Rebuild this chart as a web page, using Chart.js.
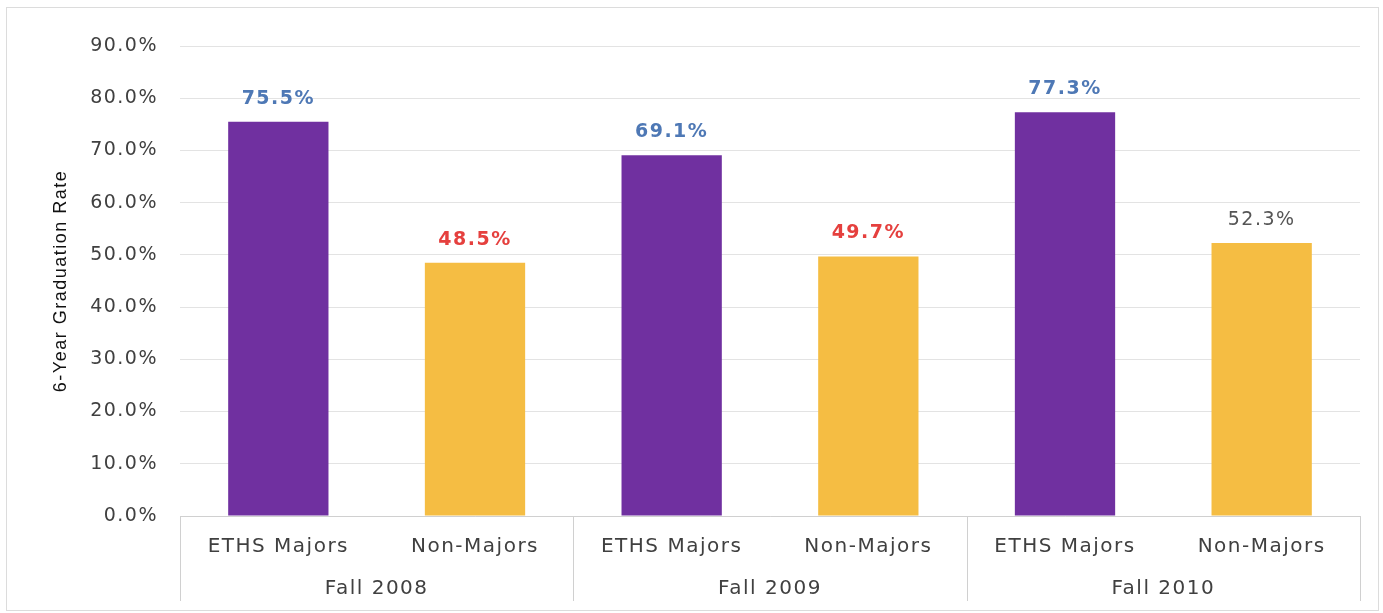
<!DOCTYPE html>
<html>
<head>
<meta charset="utf-8">
<script src="https://cdn.jsdelivr.net/npm/chart.js@4.4.1/dist/chart.umd.min.js"></script>
<style>
  body { margin: 0; background: #ffffff; }
  #frame { position: absolute; left: 6px; top: 7px; width: 1371px; height: 602px; border: 1px solid #dcdcdc; }
  canvas { position: absolute; left: 0; top: 0; }
</style>
</head>
<body>
<div id="frame"></div>
<canvas id="gradChart" width="1383" height="613"></canvas>
<script>
// cohorts and student groups
const cohorts = ['Fall 2008', 'Fall 2009', 'Fall 2010'];
const studentGroups = ['ETHS Majors', 'Non-Majors'];
// 6-year graduation rates (%)
const ethsRates = [75.5, 69.1, 77.3];
const nonMajorRates = [48.5, 49.7, 52.3];
const yTicks = [0, 10, 20, 30, 40, 50, 60, 70, 80, 90];

const purple = '#7030a0';
const gold = '#f5bd43';
const labelColors = ['#4e78b5', '#e5403e', '#4e78b5', '#e5403e', '#4e78b5', '#555555'];
const labelWeights = ['bold', 'bold', 'bold', 'bold', 'bold', 'normal'];

// flatten into one bar per cohort/group
const labels = [];
const values = [];
const colors = [];
cohorts.forEach((c, i) => {
    labels.push(studentGroups[0], studentGroups[1]);
    values.push(ethsRates[i], nonMajorRates[i]);
    colors.push(purple, gold);
});

// the original text is rather wide, so space the letters out a bit
const wideText = {
    id: 'wideText',
    beforeInit(chart) { chart.ctx.letterSpacing = '1.5px'; },
    beforeDraw(chart) { chart.ctx.letterSpacing = '1.5px'; }
};

const valueLabels = {
    id: 'valueLabels',
    afterDatasetsDraw(chart) {
        const ctx = chart.ctx;
        const meta = chart.getDatasetMeta(0);
        ctx.save();
        ctx.textAlign = 'center';
        ctx.textBaseline = 'middle';
        meta.data.forEach((bar, i) => {
            ctx.font = labelWeights[i] + ' 19px "DejaVu Sans"';
            ctx.fillStyle = labelColors[i];
            ctx.fillText(values[i].toFixed(1) + '%', bar.x, bar.y - 23);
        });
        ctx.restore();
    }
};

const groupAxis = {
    id: 'groupAxis',
    afterDraw(chart) {
        const ctx = chart.ctx;
        const x = chart.scales.x;
        const bottom = chart.chartArea.bottom;
        ctx.save();
        ctx.strokeStyle = '#d0d0d0';
        ctx.lineWidth = 1;
        const step = x.getPixelForValue(1) - x.getPixelForValue(0);
        for (let g = 0; g <= cohorts.length; g++) {
            const px = Math.round(x.getPixelForValue(g * 2) - step / 2) + 0.5;
            ctx.beginPath();
            ctx.moveTo(px, bottom);
            ctx.lineTo(px, bottom + 85);
            ctx.stroke();
        }
        ctx.fillStyle = '#404040';
        ctx.font = '20px "DejaVu Sans"';
        ctx.textAlign = 'center';
        ctx.textBaseline = 'middle';
        cohorts.forEach((c, g) => {
            const cx = (x.getPixelForValue(g * 2) + x.getPixelForValue(g * 2 + 1)) / 2;
            ctx.fillText(c, cx, bottom + 73);
        });
        ctx.restore();
    }
};

new Chart(document.getElementById('gradChart'), {
    type: 'bar',
    data: {
        labels: labels,
        datasets: [{
            data: values,
            backgroundColor: colors,
            borderWidth: 0,
            barPercentage: 0.51,
            categoryPercentage: 1
        }]
    },
    options: {
        responsive: false,
        animation: false,
        layout: { padding: { left: 0, top: 46, right: 23, bottom: 0 } },
        plugins: {
            legend: { display: false },
            tooltip: { enabled: false }
        },
        scales: {
            y: {
                min: 0,
                max: 90,
                afterBuildTicks(scale) { scale.ticks = yTicks.map(v => ({ value: v })); },
                afterFit(scale) { scale.width = 180; },
                border: { display: false },
                grid: { color: '#e3e3e3', drawTicks: false },
                ticks: {
                    padding: 22,
                    color: '#404040',
                    font: { family: 'DejaVu Sans', size: 19 },
                    callback: v => v.toFixed(1) + '%'
                },
                title: {
                    display: true,
                    text: '6-Year Graduation Rate',
                    color: '#111111',
                    font: { family: 'Liberation Sans', size: 18 },
                    padding: { top: 50, bottom: 0 }
                }
            },
            x: {
                afterFit(scale) { scale.height = 97; },
                border: { display: true, color: '#d0d0d0' },
                grid: { display: false },
                ticks: {
                    padding: 11,
                    color: '#404040',
                    font: { family: 'DejaVu Sans', size: 20 },
                    maxRotation: 0,
                    autoSkip: false
                }
            }
        }
    },
    plugins: [wideText, valueLabels, groupAxis]
});
</script>
</body>
</html>
